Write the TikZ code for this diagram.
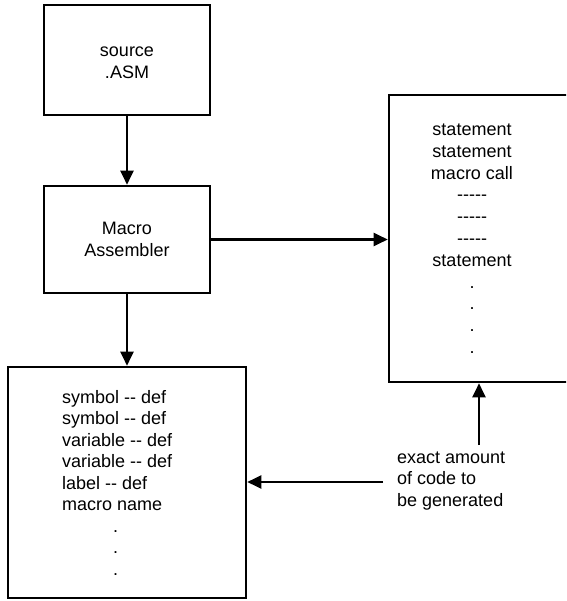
\documentclass[tikz,border=0pt]{standalone}
\usepackage{fontspec}
\setmainfont{Liberation Sans}
\usetikzlibrary{arrows.meta}

\begin{document}
\begin{tikzpicture}[x=1pt,y=-1pt,
  box/.style={draw, line width=2.6pt, inner sep=0pt},
  flow/.style={line width=2.2pt, -{Triangle[length=14pt,width=13pt]}},
  txt/.style={font=\fontsize{18}{22}\selectfont, inner sep=0pt},
]
  \useasboundingbox (0,0) rectangle (566,601);
  \clip (0,0) rectangle (566,601);

  % source file and the assembler
  \node[box, minimum width=166pt, minimum height=110pt] (src) at (127,60) {};
  \node[txt, align=center] (srctext) at (127,63) {source\\.ASM};
  \node[box, minimum width=166pt, minimum height=107pt, txt, align=center]
    (mac) at (127,239.5) {Macro\\Assembler};

  % expanded program listing (runs off to the right)
  \node[box, minimum width=211pt, minimum height=287pt] (prog) at (494.5,238.5) {};
  \node[txt, align=center, anchor=north, font=\fontsize{18}{21.8}\selectfont]
    (progtext) at (472,120) {\strut statement\\statement\\macro call\\-{}-{}-{}-{}-\\-{}-{}-{}-{}-\\-{}-{}-{}-{}-\\statement\\.\\.\\.\\.};

  % symbol table
  \node[box, minimum width=238pt, minimum height=231pt] (tab) at (127,482.5) {};
  \node[txt, align=left, anchor=north west, font=\fontsize{18}{21.5}\selectfont]
    (tabtext) at (62,388) {\strut symbol -{}- def\\symbol -{}- def\\variable -{}- def\\variable -{}- def\\label -{}- def\\macro name\\\hspace*{51pt}.\\\hspace*{51pt}.\\\hspace*{51pt}.};

  % note
  \node[txt, align=left, anchor=north west, font=\fontsize{18}{21.5}\selectfont]
    (note) at (397,448) {\strut exact amount\\of code to\\be generated};

  \coordinate (upfoot) at (479,445);
  \coordinate (leftfoot) at (383,482);

  \draw[flow] (src.south) -- (mac.north);
  \draw[flow] (mac.east) -- (mac.east -| prog.west);
  \draw[flow] (mac.south) -- (tab.north);
  \draw[flow] (upfoot) -- (upfoot |- prog.south);
  \draw[flow] (leftfoot) -- (leftfoot -| tab.east);
\end{tikzpicture}
\end{document}
